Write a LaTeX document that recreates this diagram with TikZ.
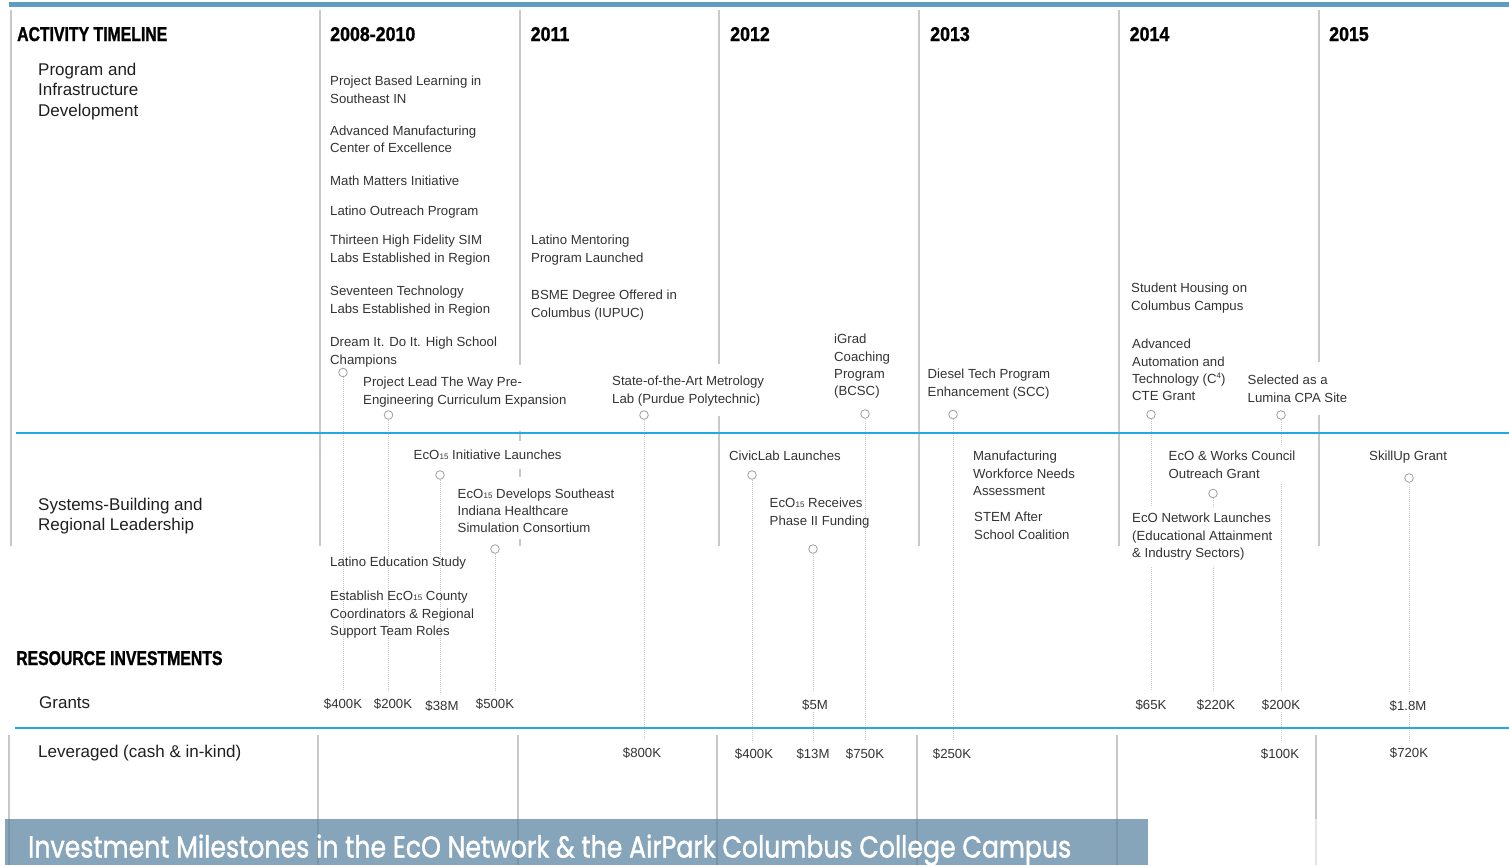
\documentclass[tikz,border=0pt]{standalone}
\usepackage{fontspec}
\usepackage{graphicx}
\setmainfont{Liberation Sans}
\newfontfamily\hdrA[FakeStretch=0.79,FakeBold=1.2]{Liberation Sans}
\newfontfamily\hdrB[FakeStretch=0.89,FakeBold=1.2]{Liberation Sans}
\newfontfamily\bannerfont[FakeBold=1.4]{Poppins}
\definecolor{topblue}{HTML}{5E9DC2}
\definecolor{rowblue}{HTML}{22A8E2}
\definecolor{colgray}{HTML}{C8C8C8}
\definecolor{dotgray}{HTML}{C9C9C9}
\definecolor{circgray}{HTML}{9E9E9E}
\definecolor{bodytxt}{HTML}{333333}
\definecolor{bannerbg}{HTML}{87A5BA}
\newcommand{\eco}{EcO\kern0.3pt{\fontsize{8}{8}\selectfont 15}}
\newcommand{\cfour}{C\raisebox{4.5pt}{\fontsize{8}{8}\selectfont 4}}
\pgfdeclarelayer{bg}
\pgfsetlayers{bg,main}
\tikzset{
  hdr/.style={anchor=base west, inner sep=0, text=black, font=\hdrA\bfseries\fontsize{20}{24}\selectfont},
  yr/.style={anchor=base west, inner sep=0, text=black, font=\hdrB\bfseries\fontsize{20}{24}\selectfont},
  lbl/.style={anchor=north west, inner sep=0, align=left, text=black!88, font=\fontsize{17}{20.6}\selectfont},
  ev/.style={anchor=north west, inner sep=0, align=left, text=bodytxt, font=\fontsize{13.2}{17.3}\selectfont},
  evm/.style={ev, fill=white, inner xsep=3pt, inner ysep=6pt, xshift=-3pt, yshift=6pt},
  amt/.style={anchor=base, inner sep=0, text=bodytxt, font=\fontsize{13.2}{16}\selectfont},
  dotc/.style={circle, draw=circgray, fill=white, line width=0.8pt, minimum size=8.6pt, inner sep=0},
  conn/.style={draw=dotgray, line width=0.8pt, dash pattern=on 1pt off 1pt},
  colline/.style={draw=colgray, line width=1.6pt},
  lowline/.style={draw=black, draw opacity=0.22, line width=1.2pt},
  rowline/.style={draw=rowblue, line width=1.8pt},
}
\begin{document}
\begin{tikzpicture}[x=1pt, y=-1pt]
\useasboundingbox (0,0) rectangle (1509,865);

% ---------- headers ----------
\node[hdr] (hAT) at (17,41) {ACTIVITY TIMELINE};
\node[yr] (y1) at (330,41) {2008-2010};
\node[yr] (y2) at (530.5,41) {2011};
\node[yr] (y3) at (730,41) {2012};
\node[yr] (y4) at (930,41) {2013};
\node[yr] (y5) at (1129.5,41) {2014};
\node[yr] (y6) at (1329,41) {2015};

% ---------- row labels ----------
\node[lbl] (lPID) at (38,62.5) {Program and\\Infrastructure\\Development};
\node[lbl] (lSB) at (38,497.5) {Systems-Building and\\Regional Leadership};
\node[hdr] (hRI) at (16,665) {RESOURCE INVESTMENTS};
\node[lbl] (lG) at (39,696) {Grants};
\node[lbl] (lL) at (38,744.5) {Leveraged (cash \& in-kind)};

% ---------- program & infrastructure events ----------
\node[ev] (e1) at (330,76) {Project Based Learning in\\Southeast IN};
\node[ev] (e2) at (330,125.5) {Advanced Manufacturing\\Center of Excellence};
\node[ev] (e3) at (330,176) {Math Matters Initiative};
\node[ev] (e4) at (330,206) {Latino Outreach Program};
\node[ev] (e5) at (330,235) {Thirteen High Fidelity SIM\\Labs Established in Region};
\node[ev] (e6) at (330,286) {Seventeen Technology\\Labs Established in Region};
\node[ev] (e7) at (330,337) {Dream It. Do It. High School\\Champions};
\node[ev] (e8) at (363,377) {Project Lead The Way Pre-\\Engineering Curriculum Expansion};
\node[ev] (e9) at (531,235) {Latino Mentoring\\Program Launched};
\node[ev] (e10) at (531,290) {BSME Degree Offered in\\Columbus (IUPUC)};
\node[ev] (e11) at (612,376) {State-of-the-Art Metrology\\Lab (Purdue Polytechnic)};
\node[ev] (e12) at (834,334) {iGrad\\Coaching\\Program\\(BCSC)};
\node[ev] (e13) at (927.5,369) {Diesel Tech Program\\Enhancement (SCC)};
\node[ev] (e14) at (1131,283) {Student Housing on\\Columbus Campus};
\node[ev] (e15) at (1132,339) {Advanced\\Automation and\\Technology (\cfour)\\CTE Grant};
\node[ev] (e16) at (1247.5,375) {Selected as a\\Lumina CPA Site};

% ---------- systems-building events ----------
\node[ev] (s1) at (413.5,450) {\eco{} Initiative Launches};
\node[ev] (s2) at (457.5,488.5) {\eco{} Develops Southeast\\Indiana Healthcare\\Simulation Consortium};
\node[ev] (s3) at (330,557) {Latino Education Study};
\node[ev] (s4) at (330,591) {Establish \eco{} County\\Coordinators \& Regional\\Support Team Roles};
\node[ev] (s5) at (729,450.5) {CivicLab Launches};
\node[ev] (s6) at (769.5,498) {\eco{} Receives\\Phase II Funding};
\node[ev] (s7) at (973,451) {Manufacturing\\Workforce Needs\\Assessment};
\node[ev] (s8) at (974,512) {STEM After\\School Coalition};
\node[evm] (s9) at (1168.5,451) {EcO \& Works Council\\Outreach Grant};
\node[evm] (s10) at (1132,513) {EcO Network Launches\\(Educational Attainment\\\& Industry Sectors)};
\node[ev] (s11) at (1369,451) {SkillUp Grant};

% ---------- milestone markers ----------
\node[dotc] (c1) at (343,372.5) {};
\node[dotc] (c2) at (388.5,415) {};
\node[dotc] (c3) at (440,475) {};
\node[dotc] (c4) at (495,549) {};
\node[dotc] (c5) at (644,415) {};
\node[dotc] (c6) at (752,475) {};
\node[dotc] (c7) at (813,549) {};
\node[dotc] (c8) at (865,414) {};
\node[dotc] (c9) at (953,414.5) {};
\node[dotc] (c10) at (1151,414.5) {};
\node[dotc] (c11) at (1281,415) {};
\node[dotc] (c12) at (1213,493.5) {};
\node[dotc] (c13) at (1409,478) {};

% ---------- grants ----------
\node[amt] (g1) at (343,708.5) {\$400K};
\node[amt] (g2) at (393,708.5) {\$200K};
\node[amt] (g3) at (442,710) {\$38M};
\node[amt] (g4) at (495,708.5) {\$500K};
\node[amt] (g5) at (815,709) {\$5M};
\node[amt] (g6) at (1151,709) {\$65K};
\node[amt] (g7) at (1216,709) {\$220K};
\node[amt] (g8) at (1281,709) {\$200K};
\node[amt] (g9) at (1408,710.5) {\$1.8M};

% ---------- leveraged ----------
\node[amt] (v1) at (642,757.5) {\$800K};
\node[amt] (v2) at (754,758) {\$400K};
\node[amt] (v3) at (813,758) {\$13M};
\node[amt] (v4) at (865,758) {\$750K};
\node[amt] (v5) at (952,758) {\$250K};
\node[amt] (v6) at (1280,758) {\$100K};
\node[amt] (v7) at (1409,757.5) {\$720K};

\begin{pgfonlayer}{bg}
  % column rules (upper part)
  \draw[colline] (11,10) -- (11,546);
  \draw[colline] (320,10) -- (320,546);
  \draw[colline] (520,10) -- (520,365) (520,431) -- (520,441) (520,469) -- (520,477) (520,539) -- (520,546);
  \draw[colline] (719,10) -- (719,364) (719,416) -- (719,546);
  \draw[colline] (919,10) -- (919,546);
  \draw[colline] (1119,10) -- (1119,546);
  \draw[colline] (1319,10) -- (1319,362) (1319,415) -- (1319,546);
  % dotted connectors
  \foreach \c/\g in {c1/g1, c2/g2, c3/g3, c4/g4, c5/v1, c6/v2, c7/g5, c8/v4, c9/v5, c10/g6, c12/g7, c11/g8, c13/g9}
    \draw[conn, shorten >=8pt] (\c.south) -- (\c.south |- \g.north);
  \draw[conn, shorten <=2pt, shorten >=7pt] (g5.south -| c7) -- (c7 |- v3.north);
  \draw[conn, shorten <=2pt, shorten >=7pt] (g8.south -| c11) -- (c11 |- v6.north);
  \draw[conn, shorten <=2pt, shorten >=7pt] (g9.south -| c13) -- (c13 |- v7.north);
  % horizontal rules
  \draw[topblue, line width=4.5pt] (9,4.7) -- (1509,4.7);
  \draw[rowline] (16,433) -- (1509,433);
  \draw[rowline] (15,728) -- (1509,728);
\end{pgfonlayer}

% ---------- bottom banner ----------
\foreach \x in {9,318,518,717,917,1117,1316}
  \draw[lowline] (\x,735) -- (\x,819);
\fill[bannerbg] (5,819) rectangle (1148,865);
\foreach \x in {9,318,518,717,917,1117,1316}
  \draw[draw=black, draw opacity=0.10, line width=1.2pt] (\x,819) -- (\x,865);
\node[anchor=base west, inner sep=0, text=white] (banner) at (28,857.5)
  {\resizebox{1043pt}{23pt}{\bannerfont Investment Milestones in the EcO Network \& the AirPark Columbus College Campus}};
\end{tikzpicture}
\end{document}
